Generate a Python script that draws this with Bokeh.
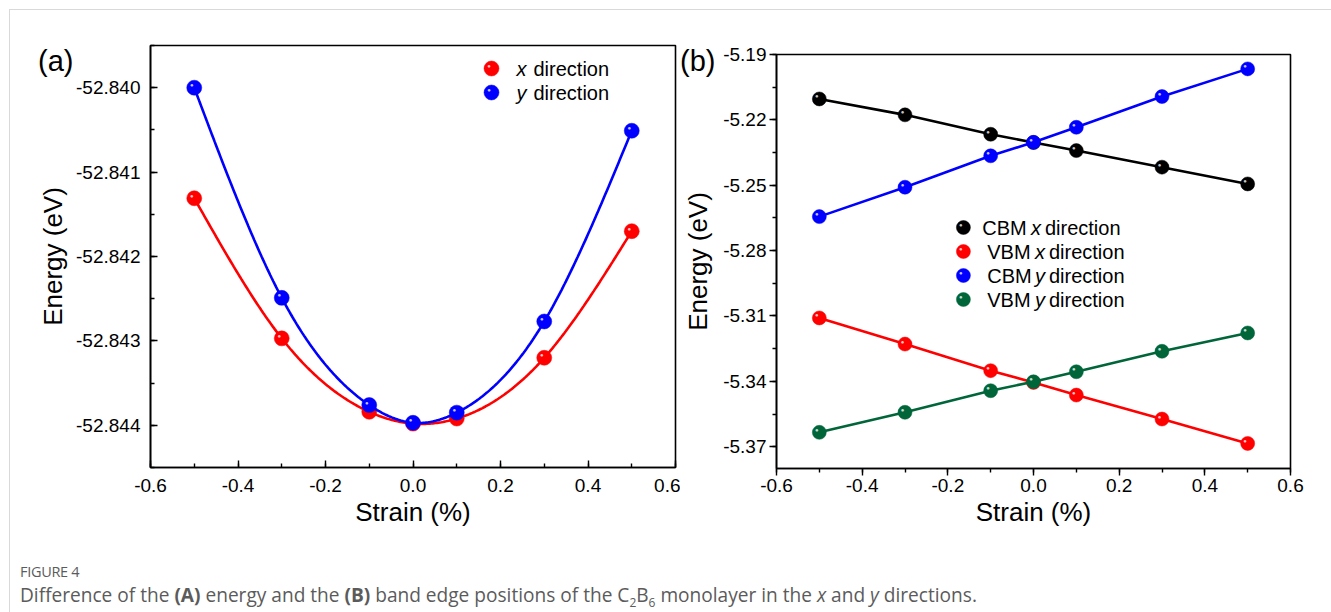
import numpy as np
from bokeh.plotting import figure
from bokeh.models import Label, FixedTicker, PrintfTickFormatter, Div, InlineStyleSheet, Spacer
from bokeh.layouts import row, column
from bokeh.embed import file_html
from bokeh.resources import INLINE

# ---------------- data ----------------
strain = [-0.5, -0.3, -0.1, 0.0, 0.1, 0.3, 0.5]
energy_x_dir = [-52.84131, -52.84297, -52.84384, -52.84398, -52.84392, -52.84320, -52.84170]
energy_y_dir = [-52.84000, -52.84249, -52.84376, -52.84397, -52.84385, -52.84277, -52.84051]

cbm_x = [-5.2104, -5.2177, -5.2266, -5.2304, -5.2341, -5.2417, -5.2494]
vbm_x = [-5.3109, -5.3229, -5.3351, -5.3405, -5.3463, -5.3573, -5.3685]
cbm_y = [-5.2644, -5.2509, -5.2365, -5.2303, -5.2234, -5.2093, -5.1966]
vbm_y = [-5.3634, -5.3542, -5.3443, -5.3402, -5.3356, -5.3262, -5.3178]

x_ticks = [-0.6, -0.4, -0.2, 0.0, 0.2, 0.4, 0.6]
a_y_ticks = [-52.844, -52.843, -52.842, -52.841, -52.840]
b_y_ticks = [-5.37, -5.34, -5.31, -5.28, -5.25, -5.22, -5.19]

RED, BLUE, BLACK, GREEN = "#ff0000", "#0000ff", "#000000", "#00663a"
FONT = "Liberation Sans"


def natural_spline(x, y, n=300):
    x = np.asarray(x, float)
    y = np.asarray(y, float)
    k = len(x)
    h = np.diff(x)
    A = np.zeros((k, k))
    r = np.zeros(k)
    A[0, 0] = A[-1, -1] = 1.0
    for i in range(1, k - 1):
        A[i, i - 1] = h[i - 1]
        A[i, i] = 2 * (h[i - 1] + h[i])
        A[i, i + 1] = h[i]
        r[i] = 3 * ((y[i + 1] - y[i]) / h[i] - (y[i] - y[i - 1]) / h[i - 1])
    c = np.linalg.solve(A, r)
    b = (y[1:] - y[:-1]) / h - h * (2 * c[:-1] + c[1:]) / 3
    d = (c[1:] - c[:-1]) / (3 * h)
    xs = np.linspace(x[0], x[-1], n)
    idx = np.clip(np.searchsorted(x, xs) - 1, 0, k - 2)
    dx = xs - x[idx]
    ys = y[idx] + b[idx] * dx + c[idx] * dx ** 2 + d[idx] * dx ** 3
    return xs, ys


def style(p, ticks_in, xt, yt, xminor, yminor, yfmt):
    p.xgrid.visible = False
    p.ygrid.visible = False
    p.outline_line_color = "black"
    p.outline_line_width = 1.6
    p.background_fill_color = "white"
    p.border_fill_color = "white"
    for ax in (p.xaxis[0], p.yaxis[0]):
        ax.axis_line_width = 1.6
        ax.major_tick_line_width = 1.4
        ax.minor_tick_line_width = 1.4
        ax.major_label_text_font = FONT
        ax.major_label_text_font_size = "19px"
        ax.major_label_text_color = "black"
        ax.axis_label_text_font = FONT
        ax.axis_label_text_font_size = "26px"
        ax.axis_label_text_font_style = "normal"
        ax.axis_label_text_color = "black"
        if ticks_in:
            ax.major_tick_in, ax.major_tick_out = 7, 0
            ax.minor_tick_in, ax.minor_tick_out = 4, 0
        else:
            ax.major_tick_in, ax.major_tick_out = 0, 7
            ax.minor_tick_in, ax.minor_tick_out = 0, 4
    p.xaxis[0].ticker = FixedTicker(ticks=xt, minor_ticks=xminor)
    p.yaxis[0].ticker = FixedTicker(ticks=yt, minor_ticks=yminor)
    p.xaxis[0].formatter = PrintfTickFormatter(format="%.1f")
    p.yaxis[0].formatter = PrintfTickFormatter(format=yfmt)


def to_data(p, fw, fh, sx, sy):
    x0, x1 = p.x_range.start, p.x_range.end
    y0, y1 = p.y_range.start, p.y_range.end
    return x0 + sx * (x1 - x0) / fw, y1 - sy * (y1 - y0) / fh


def put_text(p, fw, fh, sx, sy, text, size="20px", fstyle="normal"):
    x, y = to_data(p, fw, fh, sx, sy)
    p.add_layout(Label(x=x, y=y, text=text, text_font=FONT, text_font_size=size,
                       text_font_style=fstyle, text_baseline="middle", text_align="left",
                       text_color="black"))


def balls(p, xs, ys, color, size):
    p.scatter(xs, ys, size=size, fill_color=color, line_color=color, line_width=0.5)
    p.text(xs, ys, text=["●"] * len(xs), text_color="white", text_alpha=0.8,
           text_font_size="6px", x_offset=-2.5, y_offset=-2.5,
           text_align="center", text_baseline="middle")


def tag(text, left, top):
    return Div(text=text, width=40, height=34,
               styles={"position": "absolute", "left": f"{left}px", "top": f"{top}px",
                       "font-family": FONT, "font-size": "29px",
                       "color": "black", "z-index": "20", "line-height": "34px"})


# ---------------- panel (a) ----------------
FWA, FHA = 525, 422
pa = figure(width=680, height=535, x_range=(-0.6, 0.6), y_range=(-52.8445, -52.8395),
            output_backend="svg", toolbar_location=None,
            min_border_left=150, min_border_right=5, min_border_top=45, min_border_bottom=68)
pa.xaxis.axis_label = "Strain (%)"
pa.yaxis.axis_label = "Energy (eV)"
style(pa, True, x_ticks, a_y_ticks,
      list(np.round(np.arange(-0.6, 0.61, 0.1), 2)),
      list(np.round(np.arange(-52.8445, -52.8394, 0.0005), 4)), "%.3f")
pa.xaxis[0].major_label_standoff = 11
pa.yaxis[0].major_label_standoff = 10
pa.xaxis[0].axis_label_standoff = 2
pa.yaxis[0].axis_label_standoff = 5

for ys, col in ((energy_x_dir, RED), (energy_y_dir, BLUE)):
    sxs, sys_ = natural_spline(strain, ys)
    pa.line(sxs, sys_, line_color=col, line_width=2.6)
    balls(pa, strain, ys, col, 15)

# legend (a)
for i, (col, letter) in enumerate(((RED, "x"), (BLUE, "y"))):
    lx, ly = to_data(pa, FWA, FHA, 341, 23 + 24 * i)
    balls(pa, [lx], [ly], col, 15)
    put_text(pa, FWA, FHA, 366, 23 + 24 * i, letter, "20px", "italic")
    put_text(pa, FWA, FHA, 383, 23 + 24 * i, "direction", "20px")

# ---------------- panel (b) ----------------
FWB, FHB = 517, 414
pb = figure(width=651, height=526, x_range=(-0.6, 0.6), y_range=(-5.38, -5.19),
            output_backend="svg", toolbar_location=None,
            min_border_left=93, min_border_right=41, min_border_top=45, min_border_bottom=67)
pb.xaxis.axis_label = "Strain (%)"
pb.yaxis.axis_label = "Energy (eV)"
style(pb, False, x_ticks, b_y_ticks,
      list(np.round(np.arange(-0.6, 0.61, 0.1), 2)),
      list(np.round(np.arange(-5.385, -5.189, 0.015), 3)), "%.2f")
pb.xaxis[0].major_label_standoff = 3
pb.yaxis[0].major_label_standoff = 3
pb.xaxis[0].axis_label_standoff = 2
pb.yaxis[0].axis_label_standoff = 7

for ys, col in ((cbm_x, BLACK), (vbm_x, RED), (cbm_y, BLUE), (vbm_y, GREEN)):
    pb.line(strain, ys, line_color=col, line_width=2.6)
    balls(pb, strain, ys, col, 14)

legend_b = [(BLACK, "CBM", "x", 207, 256, 270),
            (RED, "VBM", "x", 212, 260, 274),
            (BLUE, "CBM", "y", 212, 260, 274),
            (GREEN, "VBM", "y", 212, 260, 274)]
for i, (col, word, letter, t0, t1, t2) in enumerate(legend_b):
    sy = 173 + 24 * i
    lx, ly = to_data(pb, FWB, FHB, 188, sy)
    balls(pb, [lx], [ly], col, 14)
    put_text(pb, FWB, FHB, t0, sy, word, "20px")
    put_text(pb, FWB, FHB, t1, sy, letter, "20px", "italic")
    put_text(pb, FWB, FHB, t2, sy, "direction", "20px")

tag_a = tag("(a)", 33, 39)
tag_b = tag("(b)", 675, 39)

# ---------------- caption ----------------
caption = Div(width=1331, height=77, text=(
    "<div style=\"font-family:'Open Sans'; color:#5b5b5b; padding-left:15px; padding-top:23px;\">"
    "<div style=\"font-size:14.5px; line-height:18px; letter-spacing:-0.3px;\">FIGURE 4</div>"
    "<div style=\"font-size:19.1px; line-height:24px; margin-top:2px;\">Difference of the <b>(A)</b> energy and the "
    "<b>(B)</b> band edge positions of the C<sub style=\"font-size:12px\">2</sub>B<sub style=\"font-size:12px\">6</sub> "
    "monolayer in the <i>x</i> and <i>y</i> directions.</div></div>"))

css = (":host { position: relative; } "
       ":host::after { content: ''; position: absolute; left: 9px; top: 9px; right: 0; bottom: 0; "
       "border-left: 1px solid #d9d9d9; border-top: 1px solid #d9d9d9; pointer-events: none; z-index: 10; }")
layout = column(row(pa, column(Spacer(width=651, height=9), pb)), caption, tag_a, tag_b,
                stylesheets=[InlineStyleSheet(css=css)])

open("out.html", "w").write(file_html(layout, INLINE))
